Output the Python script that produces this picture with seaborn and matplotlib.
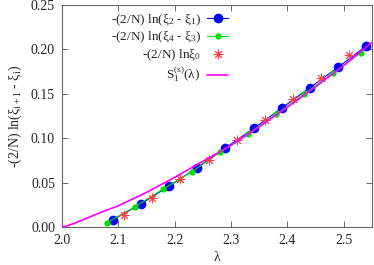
import numpy as np
import pandas as pd
import seaborn as sns
import matplotlib
matplotlib.use("Agg")
import matplotlib.pyplot as plt

# values
lam_21 = [2.09, 2.14, 2.19, 2.24, 2.29, 2.34, 2.39, 2.44, 2.49, 2.54]
val_21 = [0.008, 0.026, 0.046, 0.067, 0.089, 0.111, 0.134, 0.157, 0.180, 0.204]

lam_43 = [2.08, 2.13, 2.18, 2.23, 2.28, 2.33, 2.38, 2.43, 2.48, 2.53]
val_43 = [0.005, 0.023, 0.043, 0.062, 0.084, 0.105, 0.127, 0.150, 0.173, 0.196]

lam_0 = [2.11, 2.16, 2.21, 2.26, 2.31, 2.36, 2.41, 2.46, 2.51]
val_0 = [0.014, 0.033, 0.054, 0.076, 0.098, 0.120, 0.144, 0.168, 0.194]

lam_s = [2.0, 2.01, 2.025, 2.05, 2.075, 2.1, 2.15, 2.2, 2.25, 2.3, 2.35, 2.4, 2.45, 2.5, 2.55]
val_s = [0.0, 0.0015, 0.005, 0.0115, 0.018, 0.024, 0.039, 0.056, 0.074, 0.092, 0.113, 0.135, 0.158, 0.182, 0.208]

xticks = [2.0, 2.1, 2.2, 2.3, 2.4, 2.5]
yticks = [0.00, 0.05, 0.10, 0.15, 0.20, 0.25]

lab_21 = r"-(2/N) ln(ξ$_{2}$ - ξ$_{1}$)"
lab_43 = r"-(2/N) ln(ξ$_{4}$ - ξ$_{3}$)"
lab_0 = r"-(2/N) lnξ$_{0}$"
lab_s = r"S$_{1}^{(s)}$(λ)"

sns.set_style("ticks")
plt.rcParams['font.family'] = ['Liberation Serif', 'DejaVu Serif']
plt.rcParams['mathtext.fontset'] = 'custom'
plt.rcParams['mathtext.rm'] = 'Liberation Serif'
plt.rcParams['mathtext.it'] = 'Liberation Serif'
plt.rcParams['mathtext.bf'] = 'Liberation Serif'

fig, ax = plt.subplots(figsize=(3.74, 2.65), dpi=100)
fig.subplots_adjust(left=62/374, right=372/374, top=1-5/265, bottom=1-227/265)

sns.lineplot(x=lam_21, y=val_21, ax=ax, color='#0000ff', lw=0.8, marker='o',
             markersize=7, markeredgewidth=0, label=lab_21, zorder=3)
sns.lineplot(x=lam_43, y=val_43, ax=ax, color='#00e000', lw=0.8, marker='o',
             markersize=4.5, markeredgewidth=0, label=lab_43, zorder=3)
sns.scatterplot(x=lam_0, y=val_0, ax=ax, color='#ff4040', marker=(8, 2, 0),
                s=42, linewidth=0.7, label=lab_0, zorder=4)
sns.lineplot(x=lam_s, y=val_s, ax=ax, color='#ff00ff', lw=1.2, label=lab_s, zorder=5)

ax.set_xlim(2.0, 2.55)
ax.set_ylim(0.0, 0.25)
ax.set_xticks(xticks)
ax.set_xticklabels([f"{t:.1f}" for t in xticks])
ax.set_yticks(yticks)
ax.set_yticklabels([f"{t:.2f}" for t in yticks])
ax.tick_params(direction='in', top=True, right=True, length=4, width=0.6,
               color='#555555', labelsize=10, pad=5)
for sp in ax.spines.values():
    sp.set_color('#666666')
    sp.set_linewidth(0.8)

ax.set_xlabel("λ", fontsize=10, labelpad=3)
ax.set_ylabel(r"-(2/N) ln(ξ$_{i+1}$ - ξ$_{i}$)", fontsize=10, labelpad=5)

ax.legend(loc='upper right', bbox_to_anchor=(0.56, 1.0), frameon=False,
          markerfirst=False, handlelength=1.6, labelspacing=0.15,
          borderaxespad=0.15, handletextpad=0.5, fontsize=9.5)

fig.savefig("out.png", dpi=100)
